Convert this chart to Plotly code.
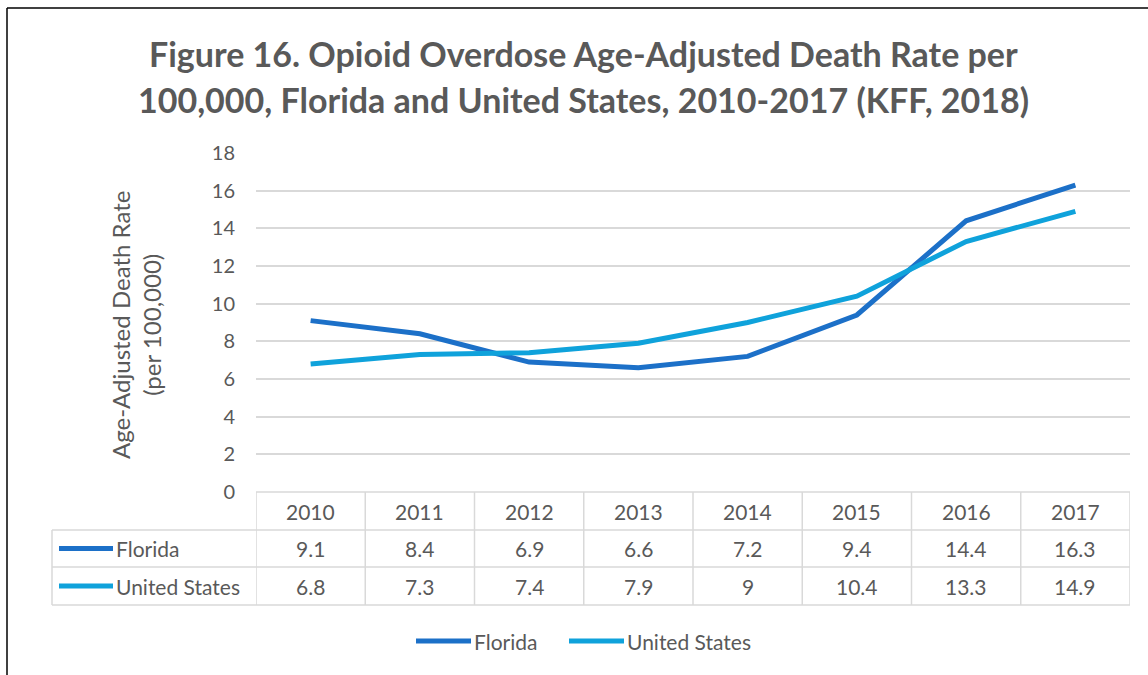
import plotly.graph_objects as go

years = ["2010", "2011", "2012", "2013", "2014", "2015", "2016", "2017"]
florida = [9.1, 8.4, 6.9, 6.6, 7.2, 9.4, 14.4, 16.3]
united_states = [6.8, 7.3, 7.4, 7.9, 9, 10.4, 13.3, 14.9]
series_names = ["Florida", "United States"]
series_colors = ["#1C70C8", "#0FA2DB"]

W, H = 1148, 675
L, R, T, B = 256, 1130, 153, 492
FONT = "Lato, 'Open Sans', sans-serif"
GRAY = "#595959"
GRID = "#d9d9d9"


def px(x):
    return (x - L) / (R - L)


def py(y):
    return (B - y) / (B - T)


xs = list(range(len(years)))
fig = go.Figure()
for name, vals, col in zip(series_names, [florida, united_states], series_colors):
    fig.add_trace(go.Scatter(x=xs, y=vals, mode="lines", name=name,
                             line=dict(color=col, width=5), showlegend=False,
                             hoverinfo="x+y"))

shapes = []
ann = []

# outer border (top and left)
shapes.append(dict(type="line", xref="paper", yref="paper", x0=px(7), x1=px(W + 5),
                   y0=py(8), y1=py(8), line=dict(color="black", width=1.5)))
shapes.append(dict(type="line", xref="paper", yref="paper", x0=px(7), x1=px(7),
                   y0=py(8), y1=py(H + 5), line=dict(color="black", width=1.5)))

# data table
row_tops = [492, 530, 567, 605]
n = len(years)
for i in range(n + 1):
    shapes.append(dict(type="line", xref="x", yref="paper", x0=i - 0.5, x1=i - 0.5,
                       y0=py(row_tops[0]), y1=py(row_tops[-1]),
                       line=dict(color=GRID, width=1.5)))
shapes.append(dict(type="line", xref="x", yref="paper", x0=-0.5, x1=n - 0.5,
                   y0=py(row_tops[0]), y1=py(row_tops[0]), line=dict(color=GRID, width=1.5)))
for yy in row_tops[1:]:
    shapes.append(dict(type="line", xref="paper", yref="paper", x0=px(52), x1=1,
                       y0=py(yy), y1=py(yy), line=dict(color=GRID, width=1.5)))
shapes.append(dict(type="line", xref="paper", yref="paper", x0=px(52), x1=px(52),
                   y0=py(row_tops[1]), y1=py(row_tops[-1]), line=dict(color=GRID, width=1.5)))

tfont = dict(family=FONT, size=21, color=GRAY)
for i, yr in enumerate(years):
    ann.append(dict(x=i, y=py((row_tops[0] + row_tops[1]) / 2), xref="x", yref="paper",
                    text=yr, showarrow=False, font=tfont, xanchor="center", yanchor="middle"))
for r, (name, vals, col) in enumerate(zip(series_names, [florida, united_states], series_colors)):
    ymid = (row_tops[r + 1] + row_tops[r + 2]) / 2
    for i, v in enumerate(vals):
        ann.append(dict(x=i, y=py(ymid), xref="x", yref="paper", text=str(v),
                        showarrow=False, font=tfont, xanchor="center", yanchor="middle"))
    shapes.append(dict(type="line", xref="paper", yref="paper", x0=px(59), x1=px(113),
                       y0=py(ymid), y1=py(ymid), line=dict(color=col, width=5)))
    ann.append(dict(x=px(114), y=py(ymid), xref="paper", yref="paper", text=name,
                    xanchor="left", yanchor="middle", showarrow=False, font=tfont))

# bottom legend
leg = [(416, 471, 472), (569, 624, 625)]
for (a, b, t), name, col in zip(leg, series_names, series_colors):
    shapes.append(dict(type="line", xref="paper", yref="paper", x0=px(a), x1=px(b),
                       y0=py(641), y1=py(641), line=dict(color=col, width=5)))
    ann.append(dict(x=px(t), y=py(641), xref="paper", yref="paper", text=name,
                    xanchor="left", yanchor="middle", showarrow=False, font=tfont))

# axis title
ann.append(dict(x=px(136), y=py(325), xref="paper", yref="paper",
                text="Age-Adjusted Death Rate<br>(per 100,000)", textangle=-90,
                xanchor="center", yanchor="middle",
                showarrow=False, font=dict(family=FONT, size=24, color=GRAY)))

# chart title (two lines, as annotation for precise spacing)
title_lines = ["Figure 16. Opioid Overdose Age-Adjusted Death Rate per",
               "100,000, Florida and United States, 2010-2017 (KFF, 2018)"]
for line, yc in zip(title_lines, [53, 99]):
    ann.append(dict(x=px(583), y=py(yc), xref="paper", yref="paper",
                    text="<b>" + line + "</b>", xanchor="center", yanchor="middle",
                    showarrow=False, font=dict(family=FONT, size=34, color=GRAY)))

fig.update_layout(
    width=W, height=H,
    margin=dict(l=L, r=W - R, t=T, b=H - B),
    paper_bgcolor="white", plot_bgcolor="white",
    xaxis=dict(range=[-0.5, n - 0.5], showticklabels=False, showgrid=False,
               zeroline=False, showline=False, ticks=""),
    yaxis=dict(range=[0, 18], dtick=2, showgrid=True, gridcolor=GRID, gridwidth=1.5,
               zeroline=False, showline=False, ticks="", ticklabelstandoff=20,
               tickfont=dict(family=FONT, size=20, color=GRAY)),
    shapes=shapes, annotations=ann, showlegend=False,
)
fig.write_html("out.html", config={"displayModeBar": False},
               post_script="document.body.style.margin='0';")
